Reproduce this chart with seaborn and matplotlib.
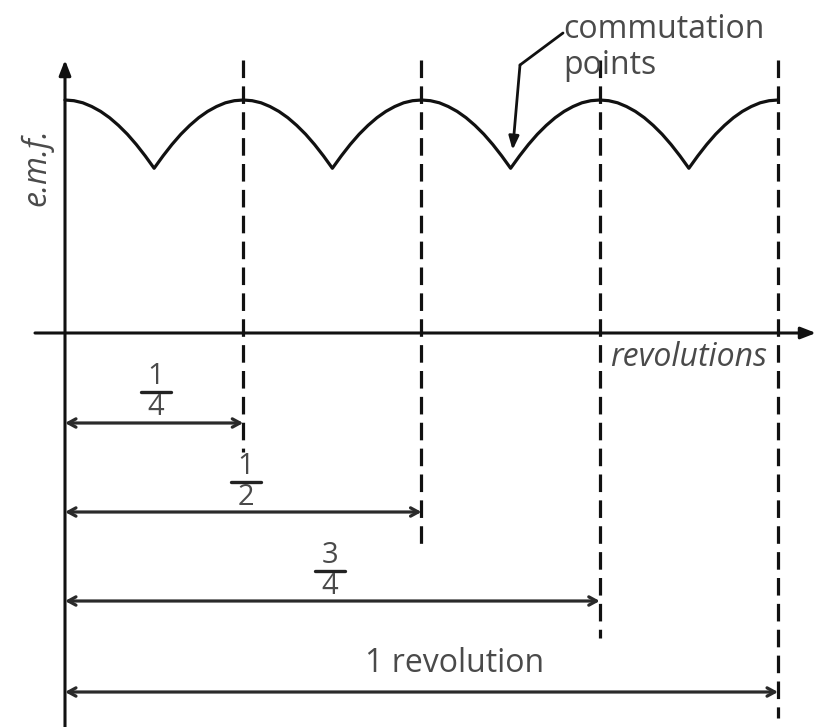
import numpy as np
import pandas as pd
import matplotlib.pyplot as plt
import seaborn as sns

# Readings from the picture (x in revolutions, e.m.f. relative to peak)
peak_positions = [0.0, 0.25, 0.5, 0.75, 1.0]
commutation_points = [0.125, 0.375, 0.625, 0.875]
arch_offset = [0.0, 0.0125, 0.025, 0.0375, 0.05, 0.0625, 0.075, 0.0875, 0.1, 0.1125, 0.125]
arch_level = [1.00, 0.997, 0.988, 0.972, 0.951, 0.924, 0.891, 0.853, 0.809, 0.760, 0.707]
quarter_marks = [0.25, 0.5, 0.75, 1.0]
frac_num = ['1', '1', '3']
frac_den = ['4', '2', '4']
full_label = '1 revolution'

# build the emf curve from the arch readings placed at each peak
rows = []
for p in peak_positions:
    for d, v in zip(arch_offset, arch_level):
        for x in (p - d, p + d):
            if 0 <= x <= 1:
                rows.append((round(x, 6), v))
emf = pd.DataFrame(rows, columns=['rev', 'emf']).drop_duplicates().sort_values('rev')

sns.set_style("white")
plt.rcParams['font.family'] = ['Open Sans', 'DejaVu Sans']

W, H = 820, 727
X0, X1 = 65, 778   # pixel of 0 and 1 revolution
Y0, Y1 = 333, 100  # pixel of emf 0 and emf 1


def dx(p):
    return (p - X0) / (X1 - X0)


def dy(p):
    return (Y0 - p) / (Y0 - Y1)


fig = plt.figure(figsize=(W / 100, H / 100), dpi=100)
ax = fig.add_axes([0, 0, 1, 1])
ax.set_xlim(dx(0), dx(W))
ax.set_ylim(dy(H), dy(0))
ax.axis('off')

ink = '#111111'
txt = '#4a4a4a'
fs = 23

# axes with arrow heads
ax.annotate('', xy=(dx(X0), dy(60)), xytext=(dx(X0), dy(H + 5)),
            arrowprops=dict(arrowstyle='-|>,head_length=0.9,head_width=0.35', lw=2.2, color=ink,
                            shrinkA=0, shrinkB=0))
ax.annotate('', xy=(dx(816), 0), xytext=(dx(35), 0),
            arrowprops=dict(arrowstyle='-|>,head_length=0.9,head_width=0.35', lw=2.2, color=ink,
                            shrinkA=0, shrinkB=0))

# emf curve
sns.lineplot(data=emf, x='rev', y='emf', ax=ax, color=ink, lw=2.3, estimator=None, sort=True)

# dashed verticals at quarter revolutions
bottoms = [452, 547, 638, 718]
for q, b in zip(quarter_marks, bottoms):
    ax.plot([q, q], [dy(60), dy(b)], color=ink, lw=2.3, linestyle=(0, (5.5, 2.6)))

# dimension arrows
arrow_y = [423, 512, 601, 692]
for q, ay in zip(quarter_marks, arrow_y):
    ax.annotate('', xy=(q, dy(ay)), xytext=(0, dy(ay)),
                arrowprops=dict(arrowstyle='<->,head_length=0.55,head_width=0.3', lw=2.3,
                                color='#2a2a2a', shrinkA=0, shrinkB=0))

# fraction labels: numerator, bar, denominator
frac_pos = [(156, 392), (246, 482), (330, 571)]
for n, d, (fx, fy) in zip(frac_num, frac_den, frac_pos):
    ax.plot([dx(fx - 15), dx(fx + 15)], [dy(fy), dy(fy)], color='#222222', lw=2.4)
    ax.text(dx(fx), dy(fy - 1), n, ha='center', va='bottom', fontsize=21, color=txt)
    ax.text(dx(fx), dy(fy + 1), d, ha='center', va='top', fontsize=21, color=txt)

ax.text(dx(455), dy(672), full_label, ha='center', va='baseline', fontsize=fs, color=txt)

# axis labels
ax.text(dx(689), dy(366), 'revolutions', ha='center', va='baseline', fontsize=fs,
        style='italic', color=txt)
ax.text(dx(37), dy(167), 'e.m.f.', ha='center', va='center', fontsize=fs,
        style='italic', color=txt, rotation=90)

# commutation points callout
ax.text(dx(563), dy(38), 'commutation', ha='left', va='baseline', fontsize=fs, color=txt)
ax.text(dx(563), dy(74), 'points', ha='left', va='baseline', fontsize=fs, color=txt)
ax.plot([dx(563), dx(520)], [dy(33), dy(65)], color=ink, lw=2.0)
ax.annotate('', xy=(commutation_points[2] + dx(513) - dx(511), dy(150)), xytext=(dx(520), dy(65)),
            arrowprops=dict(arrowstyle='-|>,head_length=0.8,head_width=0.3', lw=2.0, color=ink,
                            shrinkA=0, shrinkB=0))

fig.savefig('out.png', dpi=100)
